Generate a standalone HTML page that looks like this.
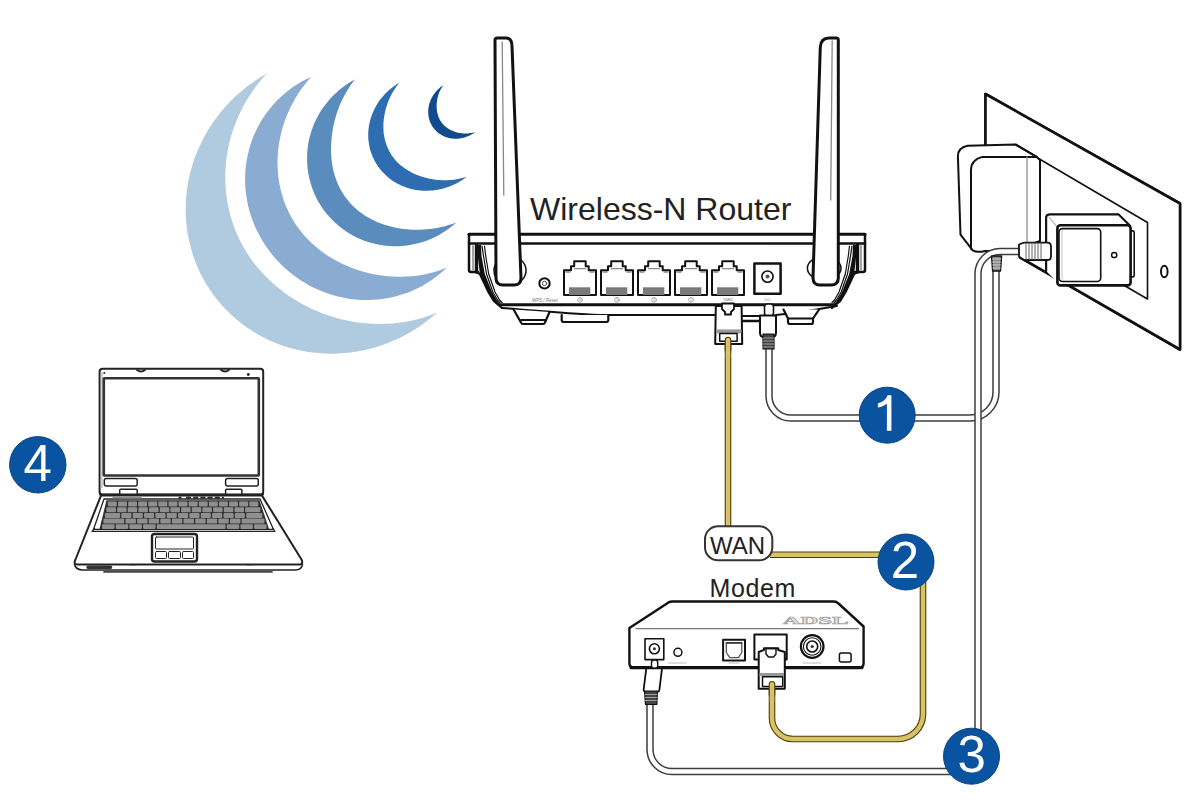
<!DOCTYPE html>
<html><head><meta charset="utf-8"><style>
html,body{margin:0;padding:0;background:#fff;width:1200px;height:800px;overflow:hidden}
svg{display:block}
text{font-family:"Liberation Sans",sans-serif}
</style></head><body>
<svg width="1200" height="800" viewBox="0 0 1200 800">
<rect width="1200" height="800" fill="#fff"/>
<!-- crescents -->
<g id="cres">
<path d="M266.8,73.4 L261.2,76.7 L255.8,80.2 L250.5,83.9 L245.4,87.8 L240.5,91.9 L235.7,96.1 L231.1,100.6 L226.7,105.2 L222.5,110.1 L218.5,115.0 L214.6,120.2 L211.0,125.4 L207.6,130.8 L204.5,136.4 L201.5,142.1 L198.8,147.9 L196.3,153.8 L194.1,159.8 L192.1,165.9 L190.4,172.0 L188.9,178.3 L187.7,184.6 L186.8,191.0 L186.1,197.4 L185.8,203.8 L185.7,210.3 L185.8,216.7 L186.3,223.2 L187.0,229.6 L188.1,236.0 L189.4,242.3 L191.0,248.6 L192.9,254.8 L195.0,261.0 L197.5,267.0 L200.2,272.9 L203.2,278.7 L206.4,284.4 L209.9,289.8 L213.7,295.2 L217.7,300.3 L221.9,305.3 L226.3,310.1 L231.0,314.6 L235.9,319.0 L240.9,323.1 L246.2,326.9 L251.6,330.6 L257.1,334.0 L262.8,337.1 L268.6,339.9 L274.6,342.5 L280.6,344.9 L286.8,346.9 L293.0,348.7 L299.3,350.2 L305.6,351.5 L312.0,352.4 L318.4,353.1 L324.9,353.5 L331.3,353.7 L337.7,353.5 L344.1,353.1 L350.5,352.5 L356.9,351.5 L363.2,350.3 L369.4,348.9 L375.6,347.2 L381.7,345.2 L387.8,343.0 L393.7,340.6 L399.6,337.9 L405.3,335.0 L410.9,331.9 L416.4,328.5 L421.7,324.9 L426.9,321.1 L432.0,317.1 L436.9,312.9 L436.8,312.8 L430.4,315.3 L423.9,317.4 L417.5,319.2 L411.1,320.7 L404.8,321.9 L398.5,322.8 L392.4,323.5 L386.3,323.8 L380.3,324.0 L374.4,323.9 L368.7,323.6 L363.0,323.1 L357.5,322.4 L352.2,321.6 L346.9,320.6 L341.8,319.4 L336.8,318.1 L331.9,316.6 L327.2,315.1 L322.6,313.4 L318.1,311.6 L313.7,309.7 L309.5,307.7 L305.3,305.6 L301.3,303.4 L297.4,301.2 L293.5,298.8 L289.8,296.4 L286.2,293.9 L282.7,291.3 L279.2,288.6 L275.9,285.9 L272.6,283.0 L269.5,280.1 L266.4,277.1 L263.5,274.1 L260.6,270.9 L257.8,267.7 L255.1,264.4 L252.5,261.0 L250.0,257.5 L247.7,253.9 L245.4,250.3 L243.2,246.5 L241.1,242.7 L239.1,238.8 L237.3,234.8 L235.6,230.7 L233.9,226.5 L232.5,222.2 L231.1,217.9 L229.9,213.5 L228.8,209.0 L227.8,204.4 L227.0,199.7 L226.3,195.0 L225.8,190.1 L225.5,185.2 L225.3,180.3 L225.3,175.2 L225.5,170.1 L225.8,164.9 L226.3,159.7 L227.1,154.4 L228.0,149.0 L229.2,143.6 L230.5,138.2 L232.1,132.7 L234.0,127.2 L236.1,121.7 L238.4,116.2 L241.0,110.7 L243.8,105.2 L247.0,99.8 L250.4,94.4 L254.1,89.0 L258.0,83.7 L262.3,78.6 L266.9,73.5Z" fill="#b0cbe0"/>
<path d="M311.0,76.9 L306.3,79.2 L301.7,81.6 L297.3,84.3 L292.9,87.1 L288.7,90.2 L284.7,93.5 L280.8,96.9 L277.0,100.6 L273.4,104.4 L270.1,108.4 L266.8,112.6 L263.8,116.8 L261.0,121.3 L258.5,125.8 L256.1,130.5 L253.9,135.3 L252.0,140.2 L250.3,145.1 L248.9,150.2 L247.7,155.3 L246.7,160.4 L245.9,165.6 L245.4,170.8 L245.1,176.0 L245.1,181.2 L245.3,186.4 L245.7,191.5 L246.4,196.7 L247.3,201.8 L248.4,206.9 L249.7,211.9 L251.3,216.8 L253.0,221.6 L255.0,226.4 L257.1,231.1 L259.5,235.6 L262.0,240.1 L264.7,244.4 L267.6,248.6 L270.7,252.7 L273.9,256.7 L277.3,260.5 L280.8,264.2 L284.5,267.7 L288.3,271.1 L292.3,274.3 L296.3,277.3 L300.5,280.2 L304.9,282.8 L309.3,285.4 L313.8,287.7 L318.4,289.8 L323.1,291.8 L327.9,293.5 L332.7,295.1 L337.7,296.4 L342.6,297.5 L347.6,298.5 L352.7,299.2 L357.8,299.7 L362.9,300.0 L368.0,300.0 L373.1,299.8 L378.2,299.5 L383.3,298.8 L388.4,298.0 L393.4,296.9 L398.4,295.6 L403.3,294.1 L408.2,292.4 L412.9,290.4 L417.6,288.3 L422.2,285.9 L426.7,283.3 L431.0,280.5 L435.2,277.5 L439.3,274.3 L443.2,271.0 L446.9,267.4 L447.1,267.6 L442.0,269.6 L436.8,271.3 L431.7,272.7 L426.5,274.0 L421.5,274.9 L416.5,275.7 L411.6,276.3 L406.7,276.6 L402.0,276.8 L397.3,276.8 L392.7,276.6 L388.2,276.3 L383.8,275.8 L379.5,275.3 L375.3,274.5 L371.2,273.7 L367.2,272.8 L363.3,271.7 L359.4,270.6 L355.7,269.3 L352.1,268.0 L348.5,266.6 L345.0,265.1 L341.7,263.5 L338.3,261.8 L335.1,260.1 L332.0,258.3 L328.9,256.4 L325.9,254.4 L323.0,252.4 L320.1,250.3 L317.4,248.1 L314.7,245.8 L312.1,243.5 L309.5,241.1 L307.1,238.6 L304.7,236.0 L302.4,233.3 L300.2,230.6 L298.1,227.8 L296.1,225.0 L294.2,222.0 L292.4,219.0 L290.6,215.9 L289.0,212.8 L287.5,209.6 L286.0,206.3 L284.7,202.9 L283.5,199.5 L282.4,196.1 L281.4,192.5 L280.5,188.9 L279.7,185.3 L279.0,181.6 L278.5,177.8 L278.1,174.0 L277.8,170.1 L277.6,166.2 L277.5,162.3 L277.6,158.2 L277.8,154.2 L278.2,150.1 L278.7,145.9 L279.3,141.7 L280.2,137.5 L281.1,133.2 L282.2,128.9 L283.5,124.5 L285.0,120.2 L286.7,115.8 L288.6,111.4 L290.6,107.0 L292.9,102.7 L295.3,98.3 L298.0,93.9 L300.9,89.6 L304.1,85.4 L307.4,81.2 L311.1,77.1Z" fill="#8aabd2"/>
<path d="M355.0,79.5 L351.6,81.3 L348.4,83.3 L345.2,85.5 L342.1,87.7 L339.1,90.1 L336.3,92.7 L333.5,95.3 L330.8,98.0 L328.3,100.9 L325.9,103.9 L323.6,106.9 L321.4,110.1 L319.4,113.3 L317.5,116.7 L315.8,120.1 L314.2,123.6 L312.8,127.1 L311.5,130.7 L310.4,134.4 L309.4,138.1 L308.6,141.8 L308.0,145.6 L307.5,149.4 L307.2,153.2 L307.1,157.1 L307.1,160.9 L307.3,164.7 L307.6,168.6 L308.1,172.4 L308.8,176.1 L309.7,179.9 L310.7,183.6 L311.9,187.2 L313.2,190.8 L314.7,194.4 L316.3,197.8 L318.1,201.2 L320.1,204.5 L322.2,207.7 L324.4,210.9 L326.8,213.9 L329.3,216.8 L331.9,219.6 L334.6,222.3 L337.5,224.8 L340.4,227.3 L343.5,229.6 L346.6,231.8 L349.9,233.8 L353.2,235.7 L356.6,237.4 L360.1,239.0 L363.6,240.4 L367.2,241.7 L370.9,242.8 L374.6,243.8 L378.3,244.6 L382.1,245.2 L385.9,245.7 L389.7,246.0 L393.5,246.2 L397.3,246.2 L401.1,246.0 L404.9,245.7 L408.7,245.2 L412.5,244.6 L416.2,243.8 L419.9,242.8 L423.5,241.7 L427.1,240.4 L430.7,239.0 L434.1,237.4 L437.6,235.7 L440.9,233.8 L444.1,231.8 L447.3,229.7 L450.4,227.4 L453.4,225.0 L456.3,222.5 L456.2,222.5 L452.4,223.9 L448.6,225.1 L444.8,226.2 L441.0,227.1 L437.3,227.9 L433.7,228.5 L430.0,229.0 L426.5,229.3 L423.0,229.6 L419.5,229.7 L416.1,229.7 L412.8,229.7 L409.5,229.5 L406.3,229.2 L403.1,228.9 L400.0,228.4 L397.0,227.9 L393.9,227.3 L391.0,226.6 L388.1,225.8 L385.2,224.9 L382.4,224.0 L379.7,223.0 L377.0,221.9 L374.4,220.7 L371.8,219.4 L369.3,218.1 L366.8,216.7 L364.4,215.2 L362.1,213.6 L359.8,211.9 L357.6,210.2 L355.5,208.3 L353.5,206.4 L351.5,204.5 L349.6,202.4 L347.9,200.3 L346.2,198.2 L344.5,195.9 L343.0,193.6 L341.6,191.3 L340.3,188.9 L339.0,186.5 L337.9,184.0 L336.8,181.4 L335.9,178.9 L335.0,176.3 L334.2,173.7 L333.5,171.0 L332.9,168.3 L332.4,165.6 L332.0,162.9 L331.6,160.1 L331.4,157.4 L331.2,154.6 L331.1,151.7 L331.0,148.9 L331.1,146.0 L331.2,143.1 L331.4,140.2 L331.7,137.3 L332.0,134.3 L332.5,131.3 L333.0,128.3 L333.6,125.2 L334.3,122.1 L335.1,118.9 L336.0,115.8 L337.0,112.6 L338.2,109.3 L339.4,106.0 L340.8,102.7 L342.4,99.4 L344.1,96.1 L345.9,92.7 L347.9,89.4 L350.1,86.1 L352.4,82.7 L355.0,79.5Z" fill="#5a8cbd"/>
<path d="M399.5,82.5 L397.4,83.8 L395.3,85.2 L393.3,86.7 L391.3,88.2 L389.4,89.8 L387.5,91.5 L385.7,93.2 L384.0,95.0 L382.4,96.9 L380.8,98.8 L379.3,100.8 L377.9,102.9 L376.6,105.0 L375.4,107.2 L374.2,109.4 L373.2,111.7 L372.2,114.0 L371.3,116.4 L370.6,118.8 L369.9,121.2 L369.4,123.7 L368.9,126.1 L368.6,128.6 L368.3,131.2 L368.2,133.7 L368.2,136.2 L368.3,138.7 L368.6,141.3 L368.9,143.8 L369.4,146.3 L369.9,148.7 L370.6,151.2 L371.4,153.6 L372.3,156.0 L373.4,158.3 L374.5,160.6 L375.7,162.8 L377.1,164.9 L378.5,167.0 L380.0,169.0 L381.6,171.0 L383.3,172.8 L385.1,174.6 L386.9,176.3 L388.9,177.9 L390.8,179.5 L392.9,180.9 L395.0,182.2 L397.2,183.5 L399.4,184.6 L401.6,185.7 L403.9,186.6 L406.2,187.5 L408.6,188.2 L411.0,188.9 L413.4,189.4 L415.8,189.9 L418.2,190.3 L420.7,190.5 L423.1,190.7 L425.5,190.8 L428.0,190.7 L430.4,190.6 L432.9,190.4 L435.3,190.1 L437.7,189.7 L440.1,189.3 L442.5,188.7 L444.8,188.1 L447.2,187.3 L449.5,186.5 L451.8,185.6 L454.0,184.6 L456.3,183.5 L458.4,182.3 L460.6,181.0 L462.7,179.7 L464.7,178.3 L466.7,176.7 L466.7,176.7 L464.1,177.5 L461.6,178.2 L459.0,178.8 L456.5,179.3 L454.0,179.7 L451.6,179.9 L449.2,180.1 L446.8,180.2 L444.5,180.3 L442.3,180.2 L440.1,180.1 L437.9,179.9 L435.8,179.7 L433.7,179.4 L431.7,179.1 L429.7,178.7 L427.8,178.3 L425.9,177.8 L424.0,177.3 L422.2,176.8 L420.4,176.2 L418.7,175.5 L417.0,174.9 L415.3,174.2 L413.6,173.4 L412.0,172.7 L410.4,171.8 L408.9,171.0 L407.3,170.1 L405.8,169.1 L404.4,168.1 L403.0,167.1 L401.6,166.0 L400.2,164.9 L398.9,163.7 L397.6,162.4 L396.4,161.2 L395.2,159.9 L394.1,158.5 L393.0,157.1 L392.0,155.7 L391.0,154.2 L390.1,152.6 L389.2,151.1 L388.4,149.5 L387.7,147.8 L387.0,146.2 L386.4,144.5 L385.8,142.8 L385.3,141.0 L384.8,139.2 L384.4,137.4 L384.1,135.6 L383.8,133.7 L383.6,131.9 L383.5,130.0 L383.4,128.1 L383.4,126.1 L383.4,124.2 L383.5,122.2 L383.7,120.3 L383.9,118.3 L384.2,116.2 L384.6,114.2 L385.0,112.2 L385.5,110.1 L386.0,108.0 L386.7,105.9 L387.4,103.8 L388.2,101.7 L389.1,99.6 L390.0,97.4 L391.1,95.3 L392.2,93.1 L393.5,91.0 L394.8,88.9 L396.3,86.7 L397.8,84.6 L399.5,82.5Z" fill="#2e6eb0"/>
<path d="M443.5,85.0 L442.5,85.7 L441.5,86.4 L440.5,87.1 L439.6,87.9 L438.7,88.7 L437.8,89.6 L437.0,90.4 L436.2,91.3 L435.4,92.2 L434.7,93.2 L434.0,94.1 L433.3,95.1 L432.7,96.1 L432.1,97.2 L431.5,98.2 L431.0,99.3 L430.5,100.4 L430.1,101.5 L429.7,102.6 L429.3,103.8 L429.0,104.9 L428.8,106.1 L428.6,107.3 L428.4,108.5 L428.3,109.7 L428.2,110.9 L428.2,112.2 L428.2,113.4 L428.3,114.6 L428.5,115.8 L428.7,117.0 L428.9,118.2 L429.2,119.4 L429.6,120.6 L430.0,121.8 L430.5,122.9 L431.0,124.0 L431.6,125.1 L432.3,126.2 L432.9,127.2 L433.7,128.2 L434.5,129.2 L435.3,130.1 L436.2,131.0 L437.1,131.9 L438.0,132.7 L439.0,133.4 L440.0,134.1 L441.1,134.8 L442.2,135.4 L443.3,136.0 L444.4,136.5 L445.5,136.9 L446.7,137.3 L447.9,137.7 L449.1,138.0 L450.3,138.2 L451.5,138.4 L452.7,138.6 L453.9,138.7 L455.1,138.7 L456.3,138.7 L457.5,138.7 L458.7,138.6 L459.9,138.4 L461.1,138.2 L462.3,138.0 L463.5,137.7 L464.6,137.4 L465.8,137.0 L466.9,136.6 L468.0,136.2 L469.1,135.7 L470.2,135.2 L471.3,134.6 L472.4,134.0 L473.4,133.4 L474.4,132.7 L475.4,132.0 L475.4,132.0 L474.1,132.4 L472.9,132.7 L471.6,132.9 L470.4,133.1 L469.2,133.3 L468.0,133.4 L466.8,133.4 L465.7,133.5 L464.5,133.4 L463.4,133.4 L462.4,133.3 L461.3,133.2 L460.3,133.1 L459.3,132.9 L458.3,132.7 L457.3,132.5 L456.4,132.2 L455.5,131.9 L454.6,131.7 L453.7,131.3 L452.8,131.0 L452.0,130.6 L451.2,130.3 L450.4,129.9 L449.6,129.4 L448.8,129.0 L448.1,128.6 L447.4,128.1 L446.7,127.6 L446.0,127.1 L445.4,126.5 L444.7,126.0 L444.1,125.4 L443.5,124.8 L443.0,124.2 L442.4,123.5 L441.9,122.9 L441.4,122.2 L441.0,121.6 L440.5,120.9 L440.1,120.2 L439.7,119.4 L439.3,118.7 L439.0,117.9 L438.7,117.2 L438.4,116.4 L438.1,115.6 L437.9,114.9 L437.6,114.1 L437.4,113.2 L437.3,112.4 L437.1,111.6 L437.0,110.8 L436.9,109.9 L436.8,109.1 L436.7,108.2 L436.7,107.3 L436.6,106.4 L436.6,105.5 L436.7,104.6 L436.7,103.7 L436.8,102.8 L436.9,101.8 L437.0,100.9 L437.2,99.9 L437.3,98.9 L437.5,97.9 L437.8,96.9 L438.1,95.8 L438.4,94.8 L438.8,93.7 L439.2,92.6 L439.6,91.6 L440.1,90.5 L440.7,89.4 L441.3,88.3 L442.0,87.2 L442.7,86.1 L443.5,85.0Z" fill="#124a8e"/>
</g>

<!-- WALL OUTLET -->
<g id="wall" stroke="#111" fill="none" stroke-linejoin="round" stroke-linecap="round">
  <!-- wall plate -->
  <path d="M985.5,150 V94 L1180,203.5 V349.5 L1020,257.4" fill="#fff" stroke-width="2.6"/>
  <path d="M985.5,94 L1180,203.5 V349.5 L1020,257.4 L985.5,240 Z" fill="#fff" stroke="none"/>
  <path d="M985.5,150 V94 L1180,203.5 V349.5 L1020,257.4" stroke-width="2.6"/>
  <!-- recess -->
  <path d="M1036,157 L1147.5,222.5 V299 L1120,283" stroke-width="1.6"/>
  <ellipse cx="1164.3" cy="271.5" rx="3.3" ry="5.8" stroke-width="2"/>
  <!-- big adapter -->
  <path d="M972.7,250.4 L960.5,234.7 L957.9,156 Q958,148 967.5,145.8 L1015.6,144.6 L1036.6,156.9 L1040,160 V241 L1021,248 L1021,251 H985 Q977,253 972.7,250.4 Z" fill="#fff" stroke-width="2"/>
  <path d="M971,248.7 V170 Q971,160 982.4,156.9 H1036" stroke-width="2"/>
  <path d="M1027,157 V242" stroke="#999" stroke-width="1.4"/>
  <path d="M1016,144.6 L1037,157" stroke-width="2"/>
  <!-- small adapter -->
  <path d="M1046.2,271 V218 Q1046.2,214.6 1050,214.6 H1118.7 L1130,225.8" fill="#fff" stroke-width="2"/>
  <path d="M1046.2,271 V218 Q1046.2,214.6 1050,214.6 H1118.7 L1132,226 V278 L1060,285 Z" fill="#fff" stroke="none"/>
  <path d="M1046.2,271 V218 Q1046.2,214.6 1050,214.6 H1118.7 L1130,225.8" stroke-width="2"/>
  <path d="M1049,217 L1058,228" stroke="#bbb" stroke-width="1.2"/>
  <rect x="1130.6" y="230.9" width="3.6" height="46" rx="1.5" fill="#fff" stroke-width="1.6"/>
  <rect x="1057.4" y="225.2" width="73.2" height="60.2" rx="3" fill="#fff" stroke-width="2.6"/>
  <rect x="1059" y="228.6" width="41.7" height="52.9" rx="3.5" fill="#fff" stroke-width="1.6"/>
  <path d="M1062,231 V279" stroke="#ccc" stroke-width="1.2"/>
  <circle cx="1114.2" cy="255" r="2.6" stroke-width="1.5"/>
</g>
<!-- CABLES -->
<g fill="none" stroke-linecap="butt" stroke-linejoin="round">
  <!-- cable 1: router power -> adapter -->
  <path id="c1" d="M769,348 V396 A22,22 0 0 0 791,418 H970 A26,26 0 0 0 996,392 V268" stroke="#3c3c3c" stroke-width="7.5"/>
  <path d="M769,348 V396 A22,22 0 0 0 791,418 H970 A26,26 0 0 0 996,392 V268" stroke="#fff" stroke-width="4.5"/>
  <!-- cable A: small adapter -> badge3 -> modem -->
  <path d="M1021,251.6 H1000 A22,22 0 0 0 978,273.6 V771.5 H672 A22,22 0 0 1 650,749.5 V703" stroke="#3c3c3c" stroke-width="7.5"/>
  <path d="M1021,251.6 H1000 A22,22 0 0 0 978,273.6 V771.5 H672 A22,22 0 0 1 650,749.5 V703" stroke="#fff" stroke-width="4.5"/>
  <!-- yellow cable -->
  <path d="M728,337 V530 M770,554.7 H900 M923,580 V714 A25,25 0 0 1 898,739 H793 A21,21 0 0 1 772,718 V682" stroke="#4d3c05" stroke-width="6.6"/>
  <path d="M728,337 V530 M770,554.7 H900 M923,580 V714 A25,25 0 0 1 898,739 H793 A21,21 0 0 1 772,718 V682" stroke="#d8c268" stroke-width="4.4"/>
</g>

<g id="wallplug" stroke="#111" fill="none" stroke-linejoin="round" stroke-linecap="round">
  <!-- plug into small adapter -->
  <path d="M1019,244.5 L1024,242.6 H1048 Q1051,243 1051,247 V256 Q1051,260 1048,260 H1024 L1019,256.5 Z" fill="#fff" stroke-width="1.8"/>
  <path d="M1026,243 V259.5 M1029,243 V259.5 M1032,243 V259.5 M1035,243 V259.5 M1038,243 V259.5 M1041,243 V259.5" stroke="#666" stroke-width="1"/>
  <!-- relief under big adapter (cable B top) -->
  <path d="M991.6,256 H1001.6 L1000.5,271 H992.6 Z" fill="#888" stroke-width="1.4"/>
  <path d="M992.5,259 H1000.8 M992.6,262 H1000.6 M992.7,265 H1000.5 M992.8,268 H1000.4" stroke="#ddd" stroke-width="0.9"/>
</g>
<!-- ROUTER -->
<g id="router" stroke="#111" fill="none" stroke-linejoin="round" stroke-linecap="round">
  <!-- base / underside -->
  <path d="M502,308 C530,310 560,313 600,315 H716 M742,316 H760 M776,315 C800,313 820,309 837,306" stroke-width="2"/>
  <path d="M742,321 H760" stroke-width="2.5"/>
  <!-- feet -->
  <path d="M513.6,309.5 L521,322.5 Q521.5,324 523,324 H543 Q544.5,324 545,322.5 L549.5,312" fill="#fff" stroke-width="2.2"/>
  <path d="M521,320 H545" stroke-width="1.8"/>
  <path d="M561.7,315 V320 Q561.7,322 564,322 H606 Q608.3,322 608.3,320 V315" fill="#fff" stroke-width="2.2"/>
  <path d="M783.5,309.6 L788,318.5 V322 Q788,324 790,324 H811 Q813,324 813,322 V318.5 L819,309.6" fill="#fff" stroke-width="2.2"/>
  <path d="M788,318.5 H813" stroke-width="1.8"/>
  <!-- body front -->
  <path d="M478,245 L499.5,304.6 H835 L854.5,245 Z" fill="#fff" stroke-width="0"/>
  <path d="M476.5,272.0 L479.9,274.0 L488.4,292.0 L493.8,301.0 L499.0,305.5 L502.0,308.0" stroke-width="2.2"/>
  <path d="M857.5,272.0 L854.1,274.0 L845.6,292.0 L840.2,301.0 L835.0,305.5 L832.0,308.0" stroke-width="2.2"/>
  <path d="M477.5,245.0 L481.0,245.0 L481.5,256.0 L484.8,274.0 L492.0,292.0 L497.4,301.0 L500.0,304.5 L498.5,305.8 L493.8,301.0 L488.4,292.0 L479.9,274.0 L477.8,256.0 Z" fill="#111" stroke="none"/>
  <path d="M482.0,246.0 L483.5,256.0 L486.5,274.0 L492.8,292.0 L497.5,300.0 L500.0,303.0 M484.5,246.0 L485.7,256.0 L488.7,274.0 L495.0,292.0 L499.5,300.0 L502.0,302.5" stroke-width="1.2"/>
  <path d="M856.5,245.0 L853.0,245.0 L852.5,256.0 L849.2,274.0 L842.0,292.0 L836.6,301.0 L834.0,304.5 L835.5,305.8 L840.2,301.0 L845.6,292.0 L854.1,274.0 L856.2,256.0 Z" fill="#111" stroke="none"/>
  <path d="M852.0,246.0 L850.5,256.0 L847.5,274.0 L841.2,292.0 L836.5,300.0 L834.0,303.0 M849.5,246.0 L848.3,256.0 L845.3,274.0 L839.0,292.0 L834.5,300.0 L832.0,302.5" stroke-width="1.2"/>
  
  
  <path d="M500,304.8 H835" stroke-width="3"/>
  <!-- lid -->
  <path d="M469,234.3 H865" stroke-width="3"/>
  <path d="M469,243.5 H865" stroke-width="2.5"/>
  <path d="M469,234.3 V270 Q469,272 471,272 H478" stroke-width="2.5"/>
  <path d="M865,234.3 V270 Q865,272 863,272 H855" stroke-width="2.5"/>
  <path d="M473,246 V270" stroke="#999" stroke-width="1.8"/><path d="M476.5,245 V272" stroke="#111" stroke-width="3.4"/>
  <path d="M861,246 V270" stroke="#999" stroke-width="1.8"/>
  <path d="M857.5,245 V272" stroke="#111" stroke-width="3.4"/>
  <!-- antenna pivots -->
  <ellipse cx="510" cy="270.5" rx="16" ry="14.5" fill="#fff" stroke-width="1.5"/>
  <ellipse cx="824.2" cy="268.3" rx="16.8" ry="11.8" fill="#fff" stroke-width="1.5"/>
  <!-- antennas -->
  <path d="M496,278 L495,40 Q495,38 497,38 H506 Q512,38 512,46 L521,278 Q521,285 514,285 H503 Q496,285 496,278 Z" fill="#fff" stroke-width="3"/>
  <path d="M502.2,42 L503.8,195" stroke="#888" stroke-width="1.3"/>
  <path d="M813,278 L820.3,47 Q821,38 829,38 H836.5 Q838.3,38 838.3,40 L838.3,278 Q838.3,285 831,285 H820 Q813,285 813,278 Z" fill="#fff" stroke-width="3"/>
  <path d="M832.2,41 L830.7,200" stroke="#888" stroke-width="1.3"/>
  <!-- button -->
  <circle cx="544.5" cy="283.4" r="5.2" stroke-width="2"/>
  <circle cx="544.5" cy="283.4" r="2.2" stroke-width="1" stroke="#555"/>
  <text x="545" y="301.5" font-size="4.5" fill="#777" stroke="none" text-anchor="middle">WPS / Reset</text>
  <!-- ports -->
  <g id="port">
    <path d="M564,295 V270.3 H571 V266.3 H574.2 V261.3 H585.7 V266.3 H588.7 V270.3 H596 V295 Z" fill="#fff" stroke-width="2"/>
    <rect x="569" y="287.3" width="21.3" height="7.7" fill="#7a7a7a" stroke="none"/>
    <path d="M574.5,268.7 H585.5 M566,272 H570 M590,272 H594" stroke="#888" stroke-width="1.3"/>
  </g>
  <use href="#port" x="37"/>
  <use href="#port" x="74"/>
  <use href="#port" x="111"/>
  <use href="#port" x="148"/>
  <g stroke="#999" stroke-width="0.8" fill="none">
    <circle cx="580" cy="299.8" r="2.4"/><circle cx="617" cy="299.8" r="2.4"/><circle cx="654" cy="299.8" r="2.4"/><circle cx="691" cy="299.8" r="2.4"/>
  </g>
  <g fill="#888" stroke="none" font-size="3.6" text-anchor="middle">
    <text x="580" y="301.1">4</text><text x="617" y="301.1">3</text><text x="654" y="301.1">2</text><text x="691" y="301.1">1</text>
    <text x="728" y="301.3" font-size="4.2">WAN</text><text x="767.5" y="301.3" font-size="4.2">DC</text>
  </g>
  <!-- power jack -->
  <rect x="754.4" y="263.5" width="26.2" height="30.3" fill="#fff" stroke-width="2.5"/>
  <circle cx="767.5" cy="276.6" r="5.6" stroke-width="1.6"/>
  <circle cx="767.5" cy="276.6" r="2" fill="#555" stroke="none"/>
  <!-- WAN plug -->
  <path d="M715.8,306 H741.6 L742.2,344 H715.2 Z" fill="#fff" stroke-width="2"/>
  <path d="M722,303.5 H734 V309 L731,312 V314.5 H725 V312 L722,309 Z" fill="#fff" stroke-width="1.8"/>
  <rect x="716.5" y="329.4" width="25" height="4" fill="#999" stroke="none"/>
  <rect x="719.7" y="333.5" width="17.4" height="7.7" fill="#fff" stroke-width="1.5"/>
  <path d="M728,340 V350" stroke="#4d3c05" stroke-width="6.6"/>
  <path d="M728,340 V358" stroke="#d8c268" stroke-width="4.4"/>
  <!-- power plug -->
  <rect x="764.5" y="304" width="9" height="12" rx="3" fill="#fff" stroke-width="1.6"/>
  <path d="M760,315.5 H776 V333 Q776,338 768,338 Q760,338 760,333 Z" fill="#fff" stroke-width="2"/>
  <path d="M763,334 H774 V349 H763 Z" fill="#444" stroke-width="1.2"/>
  <path d="M763,338 H774 M763,341 H774 M763,344 H774 M763,347 H774" stroke="#aaa" stroke-width="0.9"/>
</g>


<!-- LAPTOP -->
<g id="laptop" stroke="#222" fill="none" stroke-linejoin="round" stroke-linecap="round">
  <!-- base -->
  <path d="M101,495.6 H262 L301.5,559.5 Q303.5,563.5 300,564.5 H77.5 Q73,564 75.5,559.5 Z" fill="#fff" stroke-width="2"/>
  <path d="M74.5,564 Q75.5,569.5 82,570 H296 Q302,569.5 302.5,564" stroke-width="1.6"/>
  <path d="M104,571.8 H272" stroke="#444" stroke-width="1.8"/>
  <path d="M88,567.3 H111" stroke="#333" stroke-width="3.4" stroke-dasharray="2.2,1.2"/>
  <path d="M130,564.6 H136 M247,564.6 H253" stroke-width="1.2"/>
  <!-- keyboard frame -->
  <path d="M104,499 H260 L273.5,529.5 H93.5 Z" fill="#fff" stroke-width="1.3"/>
  <path d="M94.5,528.5 L92,531.5 H275 L273,528.5" stroke-width="1.2"/>
  <path d="M106.5,500.3 H259.5 L269,529 H99.5 Z" fill="#2e2e2e" stroke="none"/>
  <g fill="#8f8f8f" stroke="none">
<rect x="107.9" y="501.5" width="8.9" height="5.0" rx="0.8"/>
<rect x="118.0" y="501.5" width="8.9" height="5.0" rx="0.8"/>
<rect x="128.1" y="501.5" width="8.9" height="5.0" rx="0.8"/>
<rect x="138.2" y="501.5" width="8.9" height="5.0" rx="0.8"/>
<rect x="148.3" y="501.5" width="8.9" height="5.0" rx="0.8"/>
<rect x="158.4" y="501.5" width="8.9" height="5.0" rx="0.8"/>
<rect x="168.5" y="501.5" width="8.9" height="5.0" rx="0.8"/>
<rect x="178.6" y="501.5" width="8.9" height="5.0" rx="0.8"/>
<rect x="188.7" y="501.5" width="8.9" height="5.0" rx="0.8"/>
<rect x="198.8" y="501.5" width="8.9" height="5.0" rx="0.8"/>
<rect x="208.9" y="501.5" width="8.9" height="5.0" rx="0.8"/>
<rect x="219.0" y="501.5" width="8.9" height="5.0" rx="0.8"/>
<rect x="229.1" y="501.5" width="8.9" height="5.0" rx="0.8"/>
<rect x="239.2" y="501.5" width="8.9" height="5.0" rx="0.8"/>
<rect x="249.3" y="501.5" width="8.9" height="5.0" rx="0.8"/>
<rect x="106.4" y="507.2" width="9.5" height="5.0" rx="0.8"/>
<rect x="117.1" y="507.2" width="9.5" height="5.0" rx="0.8"/>
<rect x="127.7" y="507.2" width="9.5" height="5.0" rx="0.8"/>
<rect x="138.4" y="507.2" width="9.5" height="5.0" rx="0.8"/>
<rect x="149.1" y="507.2" width="9.5" height="5.0" rx="0.8"/>
<rect x="159.8" y="507.2" width="9.5" height="5.0" rx="0.8"/>
<rect x="170.4" y="507.2" width="9.5" height="5.0" rx="0.8"/>
<rect x="181.1" y="507.2" width="9.5" height="5.0" rx="0.8"/>
<rect x="191.8" y="507.2" width="9.5" height="5.0" rx="0.8"/>
<rect x="202.4" y="507.2" width="9.5" height="5.0" rx="0.8"/>
<rect x="213.1" y="507.2" width="9.5" height="5.0" rx="0.8"/>
<rect x="223.8" y="507.2" width="9.5" height="5.0" rx="0.8"/>
<rect x="234.5" y="507.2" width="9.5" height="5.0" rx="0.8"/>
<rect x="245.1" y="507.2" width="15.2" height="5.0" rx="0.8"/>
<rect x="104.9" y="512.9" width="15.2" height="5.0" rx="0.8"/>
<rect x="121.3" y="512.9" width="10.1" height="5.0" rx="0.8"/>
<rect x="132.7" y="512.9" width="10.1" height="5.0" rx="0.8"/>
<rect x="144.0" y="512.9" width="10.1" height="5.0" rx="0.8"/>
<rect x="155.4" y="512.9" width="10.1" height="5.0" rx="0.8"/>
<rect x="166.7" y="512.9" width="10.1" height="5.0" rx="0.8"/>
<rect x="178.1" y="512.9" width="10.1" height="5.0" rx="0.8"/>
<rect x="189.4" y="512.9" width="10.1" height="5.0" rx="0.8"/>
<rect x="200.8" y="512.9" width="10.1" height="5.0" rx="0.8"/>
<rect x="212.1" y="512.9" width="10.1" height="5.0" rx="0.8"/>
<rect x="223.5" y="512.9" width="10.1" height="5.0" rx="0.8"/>
<rect x="234.8" y="512.9" width="10.1" height="5.0" rx="0.8"/>
<rect x="246.2" y="512.9" width="16.2" height="5.0" rx="0.8"/>
<rect x="103.4" y="518.6" width="20.8" height="5.0" rx="0.8"/>
<rect x="125.5" y="518.6" width="10.4" height="5.0" rx="0.8"/>
<rect x="137.1" y="518.6" width="10.4" height="5.0" rx="0.8"/>
<rect x="148.7" y="518.6" width="10.4" height="5.0" rx="0.8"/>
<rect x="160.3" y="518.6" width="10.4" height="5.0" rx="0.8"/>
<rect x="171.9" y="518.6" width="10.4" height="5.0" rx="0.8"/>
<rect x="183.5" y="518.6" width="10.4" height="5.0" rx="0.8"/>
<rect x="195.2" y="518.6" width="10.4" height="5.0" rx="0.8"/>
<rect x="206.8" y="518.6" width="10.4" height="5.0" rx="0.8"/>
<rect x="218.4" y="518.6" width="10.4" height="5.0" rx="0.8"/>
<rect x="230.0" y="518.6" width="10.4" height="5.0" rx="0.8"/>
<rect x="241.6" y="518.6" width="22.9" height="5.0" rx="0.8"/>
<rect x="102.0" y="524.3" width="12.5" height="4.6" rx="0.8"/>
<rect x="115.7" y="524.3" width="12.5" height="4.6" rx="0.8"/>
<rect x="129.4" y="524.3" width="12.5" height="4.6" rx="0.8"/>
<rect x="143.1" y="524.3" width="12.5" height="4.6" rx="0.8"/>
<rect x="156.8" y="524.3" width="68.8" height="4.6" rx="0.8"/>
<rect x="226.7" y="524.3" width="12.5" height="4.6" rx="0.8"/>
<rect x="240.4" y="524.3" width="12.5" height="4.6" rx="0.8"/>
<rect x="254.1" y="524.3" width="12.5" height="4.6" rx="0.8"/>
  </g>
  <!-- leds -->
  <circle cx="180" cy="497.8" r="1.6" fill="#333" stroke="none"/>
  <path d="M187,497.8 H223" stroke="#333" stroke-width="2.4" stroke-dasharray="3,4.2"/>
  <path d="M113,497.8 H141" stroke="#888" stroke-width="1.5"/>
  <!-- touchpad -->
  <rect x="152" y="534" width="45" height="27.5" rx="2.5" fill="#fff" stroke-width="2.4"/>
  <rect x="155.5" y="537" width="38" height="12" rx="1" stroke-width="1"/>
  <rect x="155.5" y="551.5" width="11" height="7" rx="1" stroke-width="1"/>
  <rect x="168.5" y="551.5" width="12" height="7" rx="1" stroke-width="1"/>
  <rect x="182.5" y="551.5" width="11" height="7" rx="1" stroke-width="1"/>
  <!-- lid -->
  <rect x="99.6" y="368.7" width="163.6" height="126" rx="3" fill="#fff" stroke-width="2"/>
  <rect x="100.8" y="372" width="2.2" height="116" fill="#cfcfcf" stroke="none"/>
  <rect x="103.8" y="378.2" width="155" height="97.3" rx="0.5" stroke="#333" stroke-width="2.6"/>
  <path d="M137,370 Q141,373 145,370 M221,370 Q225,373 229,370" stroke-width="1.8"/>
  <circle cx="104.3" cy="373" r="1" fill="#222" stroke="none"/>
  <circle cx="248.3" cy="374.5" r="1.4" fill="#222" stroke="none"/>
  <rect x="104.3" y="478.6" width="32.9" height="7.4" rx="2" stroke-width="1.5"/>
  <rect x="225.6" y="478.6" width="32.7" height="7.4" rx="2" stroke-width="1.5"/>
  <rect x="119.7" y="489.3" width="17.5" height="5.4" rx="1" fill="#fff" stroke-width="1.5"/>
  <rect x="225.6" y="489.3" width="16.3" height="5.4" rx="1" fill="#fff" stroke-width="1.5"/>
  <path d="M100,494.5 H263" stroke-width="2"/>
</g>

<!-- MODEM -->
<g id="modem" stroke="#111" fill="none" stroke-linejoin="round" stroke-linecap="round">
  <!-- body -->
  <path d="M629.4,628 L667,603.5 Q669,601.5 672,601.5 H834 Q836.5,601.5 838.5,603.5 L863.6,626.5 V663 Q863.6,667.6 859,667.6 H634 Q629.4,667.6 629.4,663 Z" fill="#fff" stroke-width="2.4"/>
  <path d="M631,667.6 H862" stroke-width="3.2"/>
  <path d="M636,628.6 H858.5" stroke="#777" stroke-width="1.3"/>
  <text x="815.5" y="624.4" font-size="10.5" fill="#e2e2e2" stroke="#a0a0a0" stroke-width="0.55" text-anchor="middle" transform="translate(815.5,0) scale(2.35,1) translate(-815.5,0)" font-weight="bold" style="font-family:'Liberation Serif',serif">ADSL</text>
  <!-- power jack -->
  <rect x="645" y="638.8" width="18.8" height="20.8" stroke-width="1.6"/>
  <circle cx="654.4" cy="648.8" r="5" stroke-width="1.6"/>
  <circle cx="654.4" cy="648.8" r="1.5" fill="#333" stroke="none"/>
  <circle cx="677.9" cy="652.3" r="4" stroke-width="1.5"/>
  <!-- rj11 -->
  <rect x="723.1" y="639.8" width="21.9" height="20.8" stroke-width="2"/>
  <path d="M726.3,642.6 H741.8 V652.5 L738.3,657.6 H729.8 L726.3,652.5 Z" stroke="#555" stroke-width="1.3"/>
  <path d="M726.5,643 H741.5" stroke="#333" stroke-width="1.6"/>
  <!-- lan port -->
  <rect x="754.4" y="634.6" width="32.3" height="25" stroke-width="2"/>
  <!-- coax -->
  <circle cx="812.2" cy="646.5" r="11.3" stroke-width="2.2"/>
  <circle cx="812.2" cy="646.5" r="8.8" stroke-width="1.1"/>
  <circle cx="812.2" cy="646.5" r="5.5" stroke-width="1.6"/>
  <circle cx="812.2" cy="646.5" r="1.6" fill="#333" stroke="none"/>
  <rect x="839.4" y="653.1" width="11.7" height="8.9" rx="2" stroke-width="1.5"/>
  <!-- tiny labels -->
  <path d="M669,663 H686 M729,663 H739 M803,663 H821" stroke="#bbb" stroke-width="1.2"/>
  <!-- lan plug -->
  <path d="M758.7,652 L764,650 V648.2 H778.2 V650 L784.8,652 V688.7 H758.7 Z" fill="#fff" stroke-width="2"/>
  <path d="M766,648.5 H776 V654 L773.5,657 H768.5 L766,654 Z" stroke-width="1.4"/>
  <rect x="759.5" y="673" width="24.5" height="3.2" fill="#999" stroke="none"/>
  <rect x="762.5" y="676.7" width="20.2" height="9.8" stroke-width="1.5" fill="#fff"/>
  <path d="M772,684.3 V694" stroke="#4d3c05" stroke-width="6.6"/>
  <path d="M772,684.3 V702" stroke="#d8c268" stroke-width="4.4"/>
  <!-- power plug -->
  <rect x="651.5" y="660" width="6.2" height="8.5" rx="2.5" fill="#fff" stroke-width="1.4"/>
  <path d="M646.3,668.4 H662 L659.4,690 Q659,693 651.5,693 Q644,693 643.6,690 Z" fill="#fff" stroke-width="1.8"/>
  <path d="M644.5,691 H657.5 L656.8,704.5 H645.5 Z" fill="#444" stroke-width="1.2"/>
  <path d="M645,694.5 H657 M645.2,697.5 H656.9 M645.3,700.5 H656.8" stroke="#aaa" stroke-width="0.9"/>
</g>

<!-- LABELS -->
<text x="530" y="219.6" font-size="32" fill="#222">Wireless-N Router</text>
<rect x="705" y="526.3" width="67.3" height="34" rx="13" fill="#fff" stroke="#333" stroke-width="2"/>
<text x="737.5" y="553.7" font-size="24" fill="#222" text-anchor="middle">WAN</text>
<text x="709.6" y="597.2" font-size="25" letter-spacing="0.6" fill="#222">Modem</text>

<!-- BADGES -->
<g font-size="51" fill="#fff" text-anchor="middle">
  <circle cx="887.2" cy="415.2" r="28" fill="#0a53a0" stroke="#0a4482" stroke-width="1"/>
  <path d="M891.4,395.3 V430.8 H886.9 V403.6 C884.5,405.6 881.5,407 877.9,407.6 V403.3 C882.5,402.3 886,399.5 887.6,395.3 Z" fill="#fff"/>
  <circle cx="906" cy="562" r="28" fill="#0a53a0" stroke="#0a4482" stroke-width="1"/>
  <text x="905" y="577.7">2</text>
  <circle cx="971.5" cy="756.2" r="28" fill="#0a53a0" stroke="#0a4482" stroke-width="1"/>
  <text x="971.8" y="772.3">3</text>
  <circle cx="37.8" cy="464.8" r="28.2" fill="#0a53a0" stroke="#0a4482" stroke-width="1"/>
  <text x="37.8" y="481.2">4</text>
</g>
</svg>
</body></html>
